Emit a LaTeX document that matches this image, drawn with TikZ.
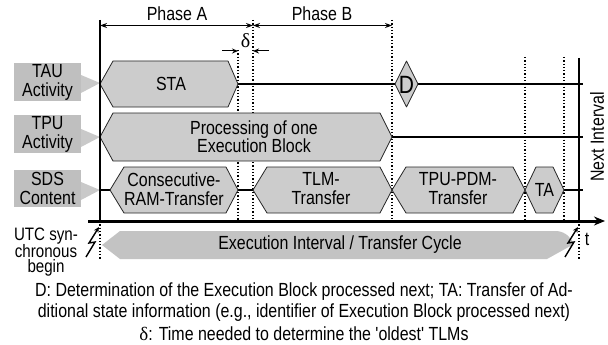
\documentclass[tikz,border=0pt]{standalone}
\usepackage{fontspec}
\newfontfamily\mainf{Liberation Sans}[FakeStretch=0.84]
\newfontfamily\greekf{Liberation Serif}
\usetikzlibrary{arrows.meta}
\begin{document}
\begin{tikzpicture}[x=1pt,y=-1pt,
  font=\mainf\fontsize{19}{19}\selectfont,
  hexa/.style={draw=black!85, fill=gray!40, line width=0.8pt, line join=round},
  rowline/.style={line width=1.3pt},
  dots/.style={line width=1.3pt, dotted},
  axisline/.style={line width=1.5pt},
  txt/.style={inner sep=0pt, align=center},
  dimarr/.style={line width=1pt, -{Stealth[length=6pt,width=5pt]}},
  bolt/.style={line width=1.4pt, line join=miter, -{Stealth[length=5.5pt,width=5pt]}}
]
\useasboundingbox (0,0) rectangle (608,345);

% ---- label boxes with wedges
\foreach \yt/\yb/\yc in {63/101/83, 115/153/137, 170/207/190}{
  \fill[gray!50] (14,\yt) rectangle (81,\yb);
  \fill[gray!42] (81,\yc-8) -- (100,\yc) -- (81,\yc+10) -- cycle;
}
\node[txt] (taul) at (47.5,82) {TAU\\Activity};
\node[txt] (tpul) at (47.5,134) {TPU\\Activity};
\node[txt] (sdsl) at (47.5,188.5) {SDS\\Content};

% ---- dotted guide lines
\draw[dots] (238,50) -- (238,221);
\draw[dots] (253,20) -- (253,221);
\draw[dots] (392,20) -- (392,221);
\draw[dots] (525,57) -- (525,221);
\draw[dots] (564,57) -- (564,221);
\draw[dots] (100,221) -- (100,260);
\draw[dots] (579,221) -- (579,260);

% ---- row lines
\draw[rowline] (238,84) -- (583,84);
\draw[rowline] (392,137) -- (583,137);
\draw[rowline] (100,190) -- (110,190);
\draw[rowline] (238,190) -- (253,190);
\draw[rowline] (564,190) -- (583,190);

% ---- hexagons
\draw[hexa] (100,84) -- (113,61) -- (228,61) -- (238,84) -- (228,107) -- (113,107) -- cycle;
\node[txt] (sta) at (171,84) {STA};
\draw[hexa] (100,137) -- (113,113) -- (380,113) -- (392,137) -- (380,161) -- (113,161) -- cycle;
\node[txt, font=\mainf\fontsize{19}{18}\selectfont] (proc) at (254,137) {Processing of one\\Execution Block};
\draw[hexa] (110,190) -- (124,167) -- (226,167) -- (238,190) -- (226,213) -- (124,213) -- cycle;
\node[txt] (crt) at (174,189) {Consecutive-\\RAM-Transfer};
\draw[hexa] (253,190) -- (267,167) -- (380,167) -- (392,190) -- (380,213) -- (267,213) -- cycle;
\node[txt] (tlm) at (321,189) {TLM-\\Transfer};
\draw[hexa] (392,190) -- (406,167) -- (513,167) -- (525,190) -- (513,213) -- (406,213) -- cycle;
\node[txt] (tpd) at (458,189) {TPU-PDM-\\Transfer};
\draw[hexa] (525,190) -- (536,167) -- (553,167) -- (564,190) -- (553,213) -- (536,213) -- cycle;
\node[txt] (ta) at (544.5,190) {TA};
% diamond D
\draw[hexa] (395,84) -- (406.5,61) -- (418,84) -- (406.5,107) -- cycle;
\node[txt] (dd) at (406.5,85) {\fontsize{25}{25}\selectfont D};

% ---- axes
\draw[axisline] (100,20) -- (100,221);
\draw[axisline] (579,58) -- (579,221);
\draw[line width=3pt, -{Stealth[length=11pt,width=9pt]}] (88,221) -- (605,221);
\node[txt] (tt) at (587,239) {t};
\node[txt, rotate=90] (next) at (597,137) {Next Interval};

% ---- phase dimension arrows
\coordinate (pa0) at (100,25.5);
\coordinate (pa1) at (253,25.5);
\coordinate (pb1) at (392,25.5);
\draw[line width=1pt, {Stealth[length=7pt,width=5pt]}-{Stealth[length=7pt,width=5pt]}] (pa0) -- (pa1);
\draw[line width=1pt, {Stealth[length=7pt,width=5pt]}-{Stealth[length=7pt,width=5pt]}] (pa1) -- (pb1);
\node[txt] (pha) at (177,14) {Phase A};
\node[txt] (phb) at (322,14) {Phase B};
\coordinate (d0) at (222,51);
\coordinate (d1) at (238,51);
\coordinate (d2) at (253,51);
\coordinate (d3) at (269,51);
\draw[dimarr] (d0) -- (d1);
\draw[dimarr] (d3) -- (d2);
\node[txt] (delta) at (245.5,41) {\greekf\fontsize{20}{20}\selectfont δ};

% ---- execution interval arrow
\fill[gray!47] (102,245) -- (120,231) -- (557,231) .. controls (566,232) and (571,238) .. (574,244) -- (547,259) -- (120,259) -- cycle;
\node[txt] (exi) at (340,245) {Execution Interval / Transfer Cycle};

% ---- lightning bolts
\foreach \x in {0,479}{
  \draw[bolt] (86+\x,257) -- (95+\x,242) -- (89+\x,243) -- (99+\x,227);
}
\node[txt, font=\mainf\fontsize{18}{15}\selectfont] (utc) at (46,252) {UTC syn-\\chronous\\begin};

% ---- caption
\node[txt] (cap1) at (304,292) {D: Determination of the Execution Block processed next; TA: Transfer of Ad-};
\node[txt] (cap2) at (304,313) {ditional state information (e.g., identifier of Execution Block processed next)};
\node[txt] (cap3) at (304,334) {{\greekf δ}: Time needed to determine the 'oldest' TLMs};
\end{tikzpicture}
\end{document}
